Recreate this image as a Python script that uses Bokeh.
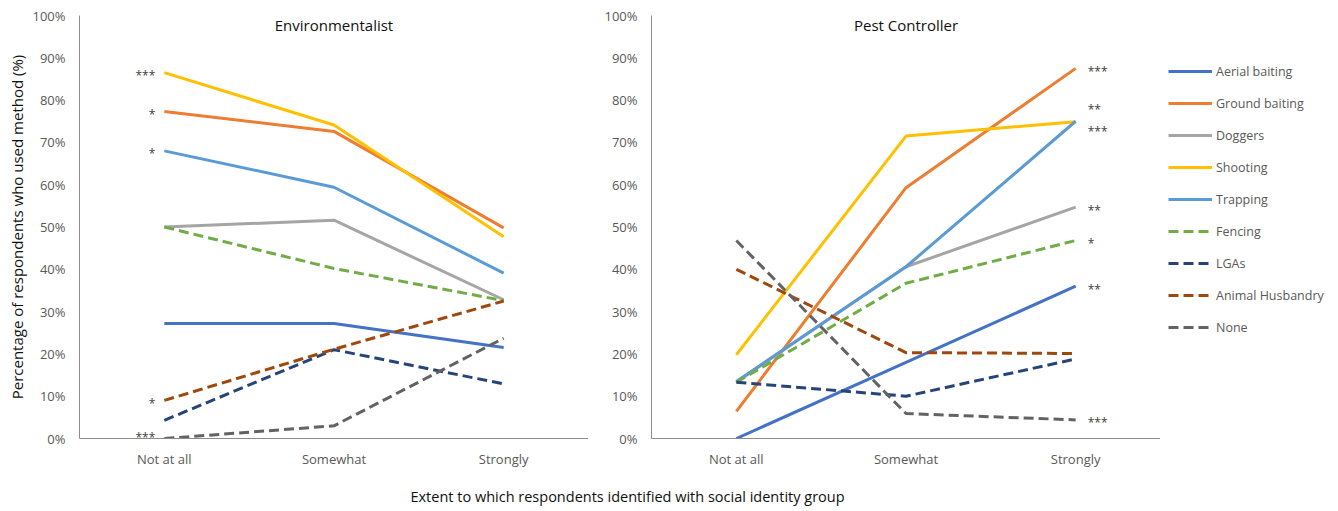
from bokeh.plotting import figure
from bokeh.models import FactorRange, Range1d, FixedTicker, PrintfTickFormatter, Legend, LegendItem, Label
from bokeh.layouts import row, column
from bokeh.embed import file_html
from bokeh.resources import INLINE
from bokeh.core.properties import value

# ---------------- data ----------------
categories = ["Not at all", "Somewhat", "Strongly"]
methods = ["Aerial baiting", "Ground baiting", "Doggers", "Shooting", "Trapping",
           "Fencing", "LGAs", "Animal Husbandry", "None"]

# Environmentalist panel (% of respondents)
env_aerial = [27.2, 27.2, 21.5]
env_ground = [77.3, 72.6, 49.8]
env_doggers = [50.0, 51.6, 32.8]
env_shooting = [86.5, 74.1, 47.7]
env_trapping = [68.0, 59.4, 39.1]
env_fencing = [50.0, 40.2, 32.6]
env_lgas = [4.3, 21.0, 12.9]
env_husbandry = [9.0, 21.1, 32.5]
env_none = [0.0, 3.0, 23.7]
env_stars = ["", "*", "", "***", "*", "", "", "*", "***"]

# Pest Controller panel (% of respondents)
pest_aerial = [0.0, 18.0, 36.0]
pest_ground = [6.4, 59.3, 87.5]
pest_doggers = [13.3, 40.6, 54.7]
pest_shooting = [19.8, 71.5, 74.9]
pest_trapping = [13.5, 40.6, 75.0]
pest_fencing = [13.3, 36.7, 46.8]
pest_lgas = [13.3, 10.0, 18.8]
pest_husbandry = [40.0, 20.3, 20.1]
pest_none = [46.8, 5.9, 4.4]
pest_stars = ["**", "***", "**", "**", "***", "*", "", "", "***"]

y_ticks = list(range(0, 101, 10))

env_series = [env_aerial, env_ground, env_doggers, env_shooting, env_trapping,
              env_fencing, env_lgas, env_husbandry, env_none]
pest_series = [pest_aerial, pest_ground, pest_doggers, pest_shooting, pest_trapping,
               pest_fencing, pest_lgas, pest_husbandry, pest_none]

# ---------------- styles ----------------
colors = ["#4472C4", "#ED7D31", "#A5A5A5", "#FFC000", "#5B9BD5",
          "#70AD47", "#264478", "#9E480E", "#636363"]
dashes = ["solid"] * 5 + ["10 5"] * 4
# label nudges (in % units) so star labels do not overlap / get clipped
env_star_nudge = [0, 0, 0, 0, 0, 0, 0, 0, 1.0]
pest_star_nudge = [0, 0, 0, 3.6, -1.7, 0, 0, 0, 0]

FONT = "Open Sans"
TICK_COLOR = "#595959"
AXIS_COLOR = "#8c8c8c"
ROW_H = 470
FRAME_W = 509
FRAME_H = 428
TOP = 15


def make_panel(title, series, width, mb_left, mb_right):
    p = figure(x_range=FactorRange(factors=categories), y_range=Range1d(0, 100),
               width=width, height=ROW_H, output_backend="svg", toolbar_location=None,
               min_border_left=mb_left, min_border_right=mb_right,
               min_border_top=TOP, min_border_bottom=ROW_H - TOP - FRAME_H)
    p.xgrid.visible = False
    p.ygrid.visible = False
    p.outline_line_color = None
    for ax in (p.xaxis[0], p.yaxis[0]):
        ax.axis_line_color = AXIS_COLOR
        ax.axis_line_width = 1
        ax.major_tick_line_color = None
        ax.minor_tick_line_color = None
        ax.major_tick_out = 0
        ax.major_tick_in = 0
        ax.major_label_text_font = FONT
        ax.major_label_text_font_size = "13px"
        ax.major_label_text_color = TICK_COLOR
    p.yaxis.ticker = FixedTicker(ticks=y_ticks)
    p.yaxis.formatter = PrintfTickFormatter(format="%d%%")
    p.yaxis.major_label_standoff = 14
    p.xaxis.major_label_standoff = 11

    renderers = []
    for vals, c, d in zip(series, colors, dashes):
        r = p.line(x=categories, y=vals, line_color=c, line_width=3, line_dash=d)
        renderers.append(r)

    p.add_layout(Label(x=FRAME_W / 2, y=FRAME_H - 14, x_units="screen", y_units="screen",
                       text=title, text_align="center", text_baseline="middle",
                       text_font=FONT, text_font_size="15px", text_color="#111111"))
    return p, renderers


left, _ = make_panel("Environmentalist", env_series, 588, 79, 0)
left.yaxis.axis_label = "Percentage of respondents who used method (%)"
left.yaxis.axis_label_text_font = FONT
left.yaxis.axis_label_text_font_style = "normal"
left.yaxis.axis_label_text_font_size = "15px"
left.yaxis.axis_label_text_color = "#111111"
left.yaxis.axis_label_standoff = 2

# star labels left panel (at "Not at all")
lx, ly, lt = [], [], []
for vals, s, n in zip(env_series, env_stars, env_star_nudge):
    if s:
        lx.append(categories[0]); ly.append(vals[0] + n); lt.append(s)
left.text(x=lx, y=ly, text=lt, text_align="right", text_baseline="middle",
          x_offset=-9, y_offset=3, text_font=value(FONT), text_font_size="12px",
          text_color="#404040")

right, rr = make_panel("Pest Controller", pest_series, 572, 63, 0)
rx, ry, rt = [], [], []
for vals, s, n in zip(pest_series, pest_stars, pest_star_nudge):
    if s:
        rx.append(categories[2]); ry.append(vals[2] + n); rt.append(s)
right.text(x=rx, y=ry, text=rt, text_align="left", text_baseline="middle",
           x_offset=12, y_offset=3, text_font=value(FONT), text_font_size="12px",
           text_color="#404040")

# legend panel: a narrow figure whose y-range lies outside the data, so only
# the legend (with the same series styles) is visible there
lg = figure(width=170, height=ROW_H, x_range=FactorRange(factors=categories),
            y_range=Range1d(500, 501), output_backend="svg", toolbar_location=None,
            min_border_left=0, min_border_right=0, min_border_top=0, min_border_bottom=0)
lg.axis.visible = False
lg.grid.visible = False
lg.outline_line_color = None
lg_items = []
for m, vals, c, d in zip(methods, pest_series, colors, dashes):
    r = lg.line(x=categories, y=vals, line_color=c, line_width=3, line_dash=d)
    lg_items.append(LegendItem(label=m, renderers=[r]))
legend = Legend(items=lg_items, location=(8, 101), padding=2, spacing=12, glyph_width=44,
                glyph_height=20, label_height=20, label_standoff=4,
                label_text_font=FONT, label_text_font_size="12.5px",
                label_text_color=TICK_COLOR, border_line_color=None,
                background_fill_alpha=0, margin=0)
lg.add_layout(legend)

bottom = figure(width=1330, height=38, x_range=Range1d(0, 1330), y_range=Range1d(0, 38),
                output_backend="svg", toolbar_location=None,
                min_border_left=0, min_border_right=0, min_border_top=0, min_border_bottom=0)
bottom.axis.visible = False
bottom.grid.visible = False
bottom.outline_line_color = None
bottom.add_layout(Label(x=627, y=12, text="Extent to which respondents identified with social identity group",
                        text_align="center", text_baseline="middle", text_font=FONT,
                        text_font_size="14.5px", text_color="#111111"))

layout = column(row(left, right, lg), bottom)
open("out.html", "w").write(file_html(layout, INLINE))
